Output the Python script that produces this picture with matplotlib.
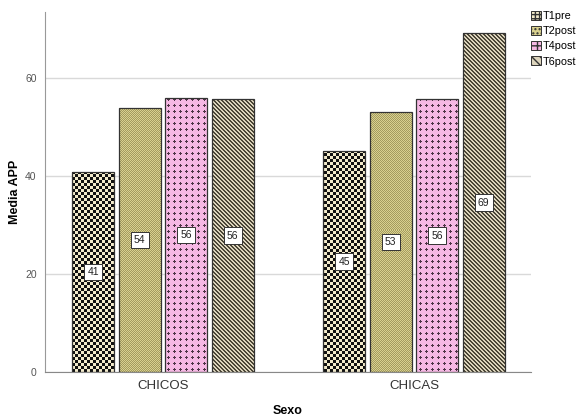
import matplotlib
matplotlib.use("Agg")
import matplotlib.pyplot as plt
import numpy as np
from matplotlib.patches import Patch

# Data
groups = ["CHICOS", "CHICAS"]
series = ["T1pre", "T2post", "T4post", "T6post"]
t1pre = [40.8, 45.1]
t2post = [53.9, 53.1]
t4post = [55.9, 55.7]
t6post = [55.7, 69.2]
values = [t1pre, t2post, t4post, t6post]

plt.rcParams["font.family"] = ["Liberation Sans", "DejaVu Sans"]
plt.rcParams["hatch.linewidth"] = 1.0

W, H = 578, 417
fig = plt.figure(figsize=(W / 100, H / 100), dpi=100)
ax_l, ax_r, ax_t, ax_b = 45, 531, 12, 372
ax = fig.add_axes([ax_l / W, 1 - ax_b / H, (ax_r - ax_l) / W, (ax_b - ax_t) / H])

xlim = (-0.47, 1.466)
ylim = (0, 73.5)

# pixel textures (SPSS-like fill patterns)
pw, ph = ax_r - ax_l, ax_b - ax_t
jj, ii = np.meshgrid(np.arange(pw), np.arange(ph))


def hexrgb(c):
    c = c.lstrip("#")
    return np.array([int(c[k:k + 2], 16) / 255 for k in (0, 2, 4)])


def texture(mask, fg, bg):
    img = np.empty((ph, pw, 3))
    img[:] = hexrgb(bg)
    img[mask] = hexrgb(fg)
    return img


textures = [
    texture(((ii // 3 + jj // 3) % 2) == 0, "#111111", "#f2eacb"),
    texture(((ii + jj) % 2) == 0, "#a39b5f", "#d9d18f"),
    texture((((ii % 6 == 3) & (np.abs(jj % 6 - 3) <= 1)) |
             ((jj % 6 == 3) & (np.abs(ii % 6 - 3) <= 1))), "#4d3345", "#f6b8e4"),
    texture(((jj - ii) % 4) < 2, "#4a4536", "#dcd4bc"),
]
legend_style = [
    dict(facecolor="#f2eacb", hatch="++++"),
    dict(facecolor="#d9d18f", hatch="...."),
    dict(facecolor="#f6b8e4", hatch="++"),
    dict(facecolor="#dcd4bc", hatch="\\\\\\\\"),
]

x = np.arange(len(groups))
bw = 0.167
pitch = 0.185
offsets = (np.arange(len(series)) - 1.5) * pitch

for s, (name, vals) in enumerate(zip(series, values)):
    bars = ax.bar(x + offsets[s], vals, width=bw, facecolor="none",
                  edgecolor="#333333", linewidth=0.9, zorder=3)
    for b, v in zip(bars, vals):
        im = ax.imshow(textures[s], extent=(xlim[0], xlim[1], ylim[0], ylim[1]),
                       origin="upper", aspect="auto", interpolation="nearest",
                       zorder=2)
        im.set_clip_path(b)
        ax.text(b.get_x() + b.get_width() / 2, v / 2, f"{v:.0f}",
                ha="center", va="center", fontsize=7.5, color="#222222",
                zorder=4,
                bbox=dict(boxstyle="square,pad=0.3", facecolor="white",
                          edgecolor="#333333", linewidth=0.7))

ax.set_xlim(*xlim)
ax.set_ylim(*ylim)
ax.set_xticks(x)
ax.set_xticklabels(groups, fontsize=9.5, color="#333333")
ax.set_yticks([0, 20, 40, 60])
ax.tick_params(axis="y", length=0, pad=6, labelsize=7.5, labelcolor="#555555")
ax.tick_params(axis="x", length=0, pad=6)
ax.grid(axis="y", color="#d9d9d9", linewidth=1.0, zorder=0)
ax.set_axisbelow(True)
for sp in ("top", "right"):
    ax.spines[sp].set_visible(False)
ax.spines["left"].set_color("#999999")
ax.spines["bottom"].set_color("#888888")

ax.set_ylabel("Media APP", fontsize=9, fontweight="bold", labelpad=3)
ax.set_xlabel("Sexo", fontsize=9, fontweight="bold", labelpad=9)

handles = [Patch(edgecolor="#333333", linewidth=0.7, label=n, **st)
           for n, st in zip(series, legend_style)]
fig.legend(handles=handles, loc="upper left", bbox_to_anchor=(531 / W, 1 - 11 / H),
           frameon=False, fontsize=7.8, handlelength=0.9, handleheight=0.9,
           handletextpad=0.2, labelspacing=0.45, borderaxespad=0, borderpad=0)

fig.savefig("out.png", dpi=100)
